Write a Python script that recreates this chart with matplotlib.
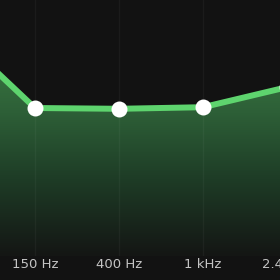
import numpy as np
import matplotlib
matplotlib.use("Agg")
import matplotlib.pyplot as plt
from matplotlib.colors import LinearSegmentedColormap

# equalizer bands (first and last partly outside the view)
bands = ["60 Hz", "150 Hz", "400 Hz", "1 kHz", "2.4 kHz"]
gains = [8.4, -1.5, -1.6, -1.4, 1.1]

BG = "#121212"
LINE = "#5ed46e"

fig = plt.figure(figsize=(2.8, 2.8), dpi=100, facecolor=BG)
ax = fig.add_axes([0, 24 / 280, 1, 256 / 280])
ax.set_facecolor(BG)

x = np.arange(len(bands))
ax.set_xlim(0.5833, 3.9167)
ax.set_ylim(-20, 12)

# faint vertical grid
for xi in x:
    ax.axvline(xi, color="white", alpha=0.04, lw=1, zorder=3)

# gradient fill under the curve
cmap = LinearSegmentedColormap.from_list(
    "eqfill", [(0, "#141614"), (0.3, "#1e3c26"), (0.56, "#2d5f37"),
               (0.75, "#37733f"), (1, "#3f8a4c")])
grad = np.linspace(0, 1, 256).reshape(-1, 1)
im = ax.imshow(grad, cmap=cmap, aspect="auto", origin="lower",
               extent=[x[0], x[-1], -20, 12], zorder=1)
poly = ax.fill_between(x, gains, -20, color="none", lw=0)
im.set_clip_path(poly.get_paths()[0], transform=ax.transData)

ax.plot(x, gains, color=LINE, lw=4.3, solid_joinstyle="round", zorder=4)
ax.plot(x, gains, "o", color="white", ms=11.5, mew=0, zorder=5)

# only the labels that fall inside the visible strip
for xi, lab in zip(x, bands):
    px = 35 + 84 * (xi - 1)
    if px < 0:
        continue
    fig.text(px / 280, 15 / 280, lab, color="#c4c4c4",
             fontsize=9.5, ha="center", va="center")

ax.axis("off")
fig.savefig("out.png", dpi=100, facecolor=BG)
